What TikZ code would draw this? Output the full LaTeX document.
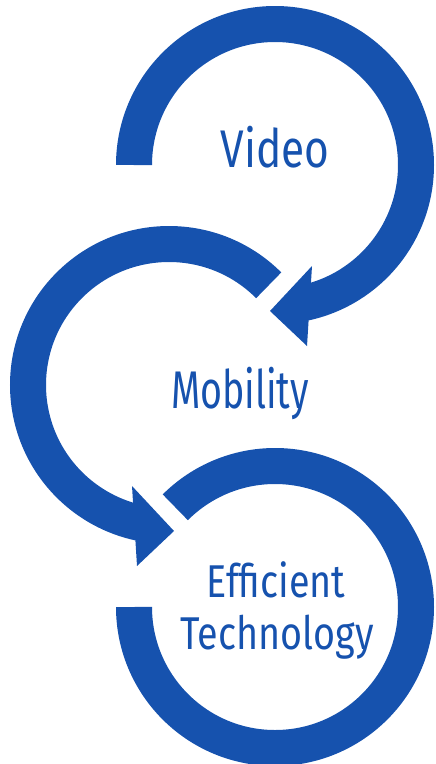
\documentclass[tikz,border=0pt]{standalone}
\usepackage{fontspec}
\setmainfont{Fira Sans}[FakeStretch=0.8]
\newfontfamily\narrowfont{Fira Sans}[FakeStretch=0.71]
\newfontfamily\widefont{Fira Sans}[FakeStretch=0.82]
\usetikzlibrary{calc}

\begin{document}
\begin{tikzpicture}[x=1pt, y=1pt]
  \definecolor{myblue}{HTML}{1652AE}
  \tikzstyle{ring}=[draw=myblue, line width=36pt]
  \tikzstyle{headfill}=[fill=myblue]
  \tikzstyle{ringtext}=[text=myblue, anchor=base, inner sep=0pt]

  \useasboundingbox (0,0) rectangle (436,-764);
  \coordinate (video) at (275,-165);
  \coordinate (mobility) at (169,-385);
  \coordinate (tech) at (275,-607);

  \draw[ring] ($(video)+(180:141)$) arc[start angle=180, end angle=-78, radius=141];
  \fill[headfill] ($(video)+(37,-101)$) -- ($(video)+(-5,-146)$) -- ($(video)+(32,-181)$) -- cycle;

  \draw[ring] ($(mobility)+(45:141)$) arc[start angle=45, end angle=258, radius=141];
  \fill[headfill] ($(mobility)+(-37,-101)$) -- ($(mobility)+(5,-146)$) -- ($(mobility)+(-32,-181)$) -- cycle;

  \draw[ring] ($(tech)+(180:141)$) arc[start angle=180, end angle=495, radius=141];

  \node[ringtext, font=\fontsize{53}{60}\selectfont] (videotext) at (275,-167) {Video};
  \node[ringtext, font=\narrowfont\fontsize{53}{60}\selectfont] (mobilitytext) at (240,-408) {Mobility};
  \node[ringtext, font=\widefont\fontsize{46}{52}\selectfont] (efftext) at (276,-597) {Efficient};
  \node[ringtext, font=\widefont\fontsize{46}{52}\selectfont] (techtext) at (277,-649) {Technology};
\end{tikzpicture}
\end{document}
